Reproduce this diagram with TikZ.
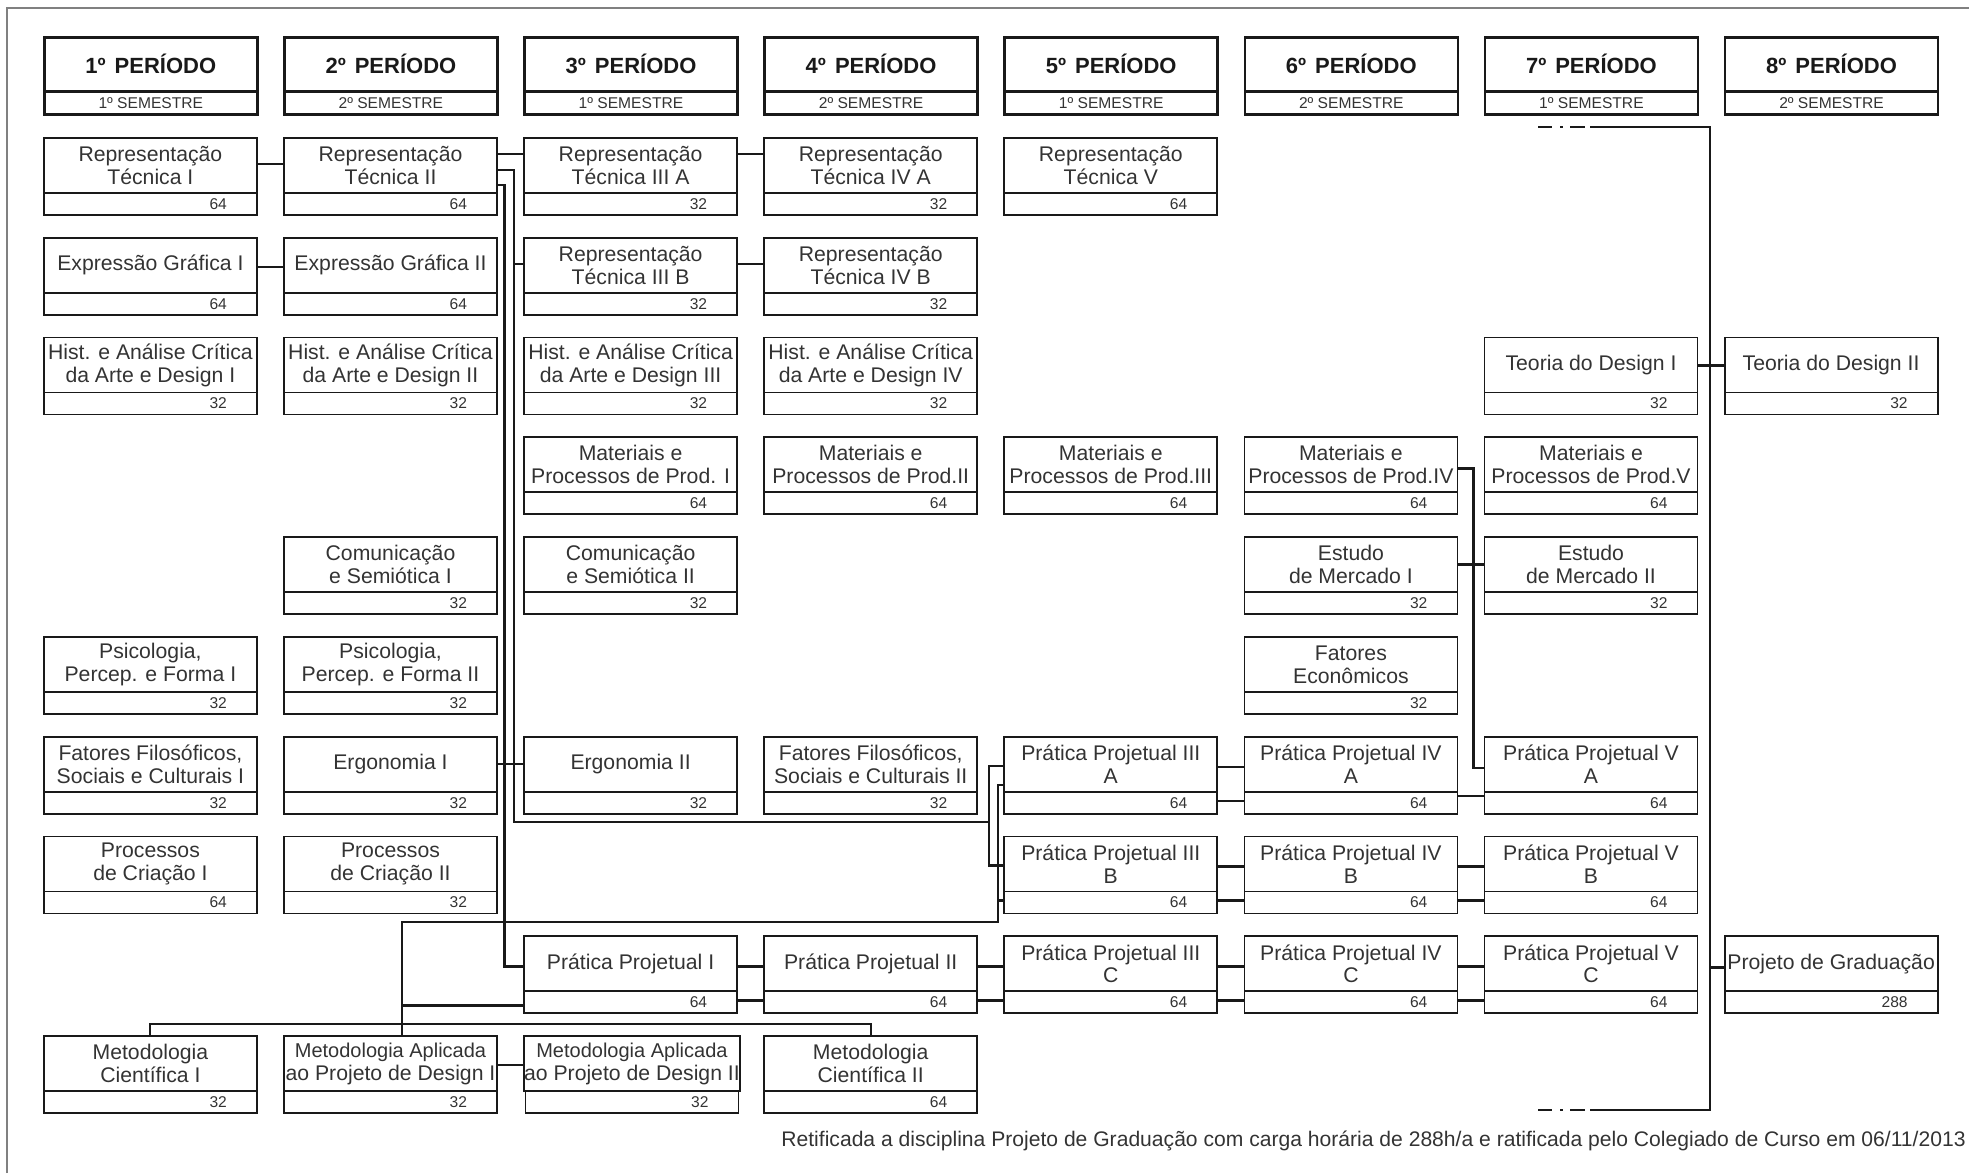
\documentclass[tikz,border=0pt]{standalone}
\usepackage{fontspec}
\setmainfont{Liberation Sans}
\usetikzlibrary{positioning,calc}

\tikzset{
  disc/.style={draw=black!90, line width=0.9pt, text=black!80, minimum width=106.5pt,
    minimum height=27.5pt, inner sep=0pt, align=center, anchor=north west,
    font=\fontsize{10.6}{11.4}\selectfont},
  hrs/.style={draw=black!90, line width=0.9pt, text=black!80, minimum width=106.5pt,
    minimum height=11pt, inner sep=0pt, text width=76.5pt, align=right,
    font=\fontsize{7.8}{8}\selectfont},
  head/.style={draw=black!90, line width=1.3pt, text=black!90, minimum width=106.5pt,
    minimum height=27pt, inner sep=0pt, anchor=north west,
    font=\fontsize{11}{13}\selectfont\bfseries},
  semhead/.style={draw=black!90, line width=1.3pt, text=black!80, minimum width=106.5pt,
    minimum height=11.5pt, inner sep=0pt, font=\fontsize{7.8}{9}\selectfont},
  link/.style={line width=1.3pt, black!90},
  thinlink/.style={line width=1pt, black!90}
}

\begin{document}
\begin{tikzpicture}[x=0.5pt,y=-0.5pt]
\useasboundingbox (0,0) rectangle (1969,1173);
\draw[gray, line width=1pt] (7,1173) -- (7,8) -- (1969,8);

\foreach \col/\smt in {1/1,2/2,3/1,4/2,5/1,6/2,7/1,8/2}{
  \node[head] (p\col) at ({43+240.1*(\col-1)},36) {\col{}º\hspace{4.5pt}PERÍODO};
  \node[semhead, below=-1.3pt of p\col] (s\col) {\smt{}º SEMESTRE};
}

\foreach \n/\col/\rw/\t/\h in {
  rt1/1/1/{Representação\\Técnica I}/64,
  eg1/1/2/{Expressão Gráfica I}/64,
  ha1/1/3/{Hist. e Análise Crítica\\da Arte e Design I}/32,
  ps1/1/6/{Psicologia,\\Percep. e Forma I}/32,
  ff1/1/7/{Fatores Filosóficos,\\Sociais e Culturais I}/32,
  pc1/1/8/{Processos\\de Criação I}/64,
  mc1/1/10/{Metodologia\\Científica I}/32,
  rt2/2/1/{Representação\\Técnica II}/64,
  eg2/2/2/{Expressão Gráfica II}/64,
  ha2/2/3/{Hist. e Análise Crítica\\da Arte e Design II}/32,
  cs1/2/5/{Comunicação\\e Semiótica I}/32,
  ps2/2/6/{Psicologia,\\Percep. e Forma II}/32,
  er1/2/7/{Ergonomia I}/32,
  pc2/2/8/{Processos\\de Criação II}/32,
  ma1/2/10/{\fontsize{10}{11}\selectfont Metodologia Aplicada\\ao Projeto de Design I}/32,
  rt3a/3/1/{Representação\\Técnica III A}/32,
  rt3b/3/2/{Representação\\Técnica III B}/32,
  ha3/3/3/{Hist. e Análise Crítica\\da Arte e Design III}/32,
  mp1/3/4/{Materiais e\\Processos de Prod. I}/64,
  cs2/3/5/{Comunicação\\e Semiótica II}/32,
  er2/3/7/{Ergonomia II}/32,
  pp1/3/9/{Prática Projetual I}/64,
  ma2/3/10/{\fontsize{10}{11}\selectfont Metodologia Aplicada\\ao Projeto de Design II}/32,
  rt4a/4/1/{Representação\\Técnica IV A}/32,
  rt4b/4/2/{Representação\\Técnica IV B}/32,
  ha4/4/3/{Hist. e Análise Crítica\\da Arte e Design IV}/32,
  mp2/4/4/{Materiais e\\Processos de Prod.II}/64,
  ff2/4/7/{Fatores Filosóficos,\\Sociais e Culturais II}/32,
  pp2/4/9/{Prática Projetual II}/64,
  mc2/4/10/{Metodologia\\Científica II}/64,
  rt5/5/1/{Representação\\Técnica V}/64,
  mp3/5/4/{Materiais e\\Processos de Prod.III}/64,
  pp3a/5/7/{Prática Projetual III\\A}/64,
  pp3b/5/8/{Prática Projetual III\\B}/64,
  pp3c/5/9/{Prática Projetual III\\C}/64,
  mp4/6/4/{Materiais e\\Processos de Prod.IV}/64,
  em1/6/5/{Estudo\\de Mercado I}/32,
  fe/6/6/{Fatores\\Econômicos}/32,
  pp4a/6/7/{Prática Projetual IV\\A}/64,
  pp4b/6/8/{Prática Projetual IV\\B}/64,
  pp4c/6/9/{Prática Projetual IV\\C}/64,
  td1/7/3/{Teoria do Design I}/32,
  mp5/7/4/{Materiais e\\Processos de Prod.V}/64,
  em2/7/5/{Estudo\\de Mercado II}/32,
  pp5a/7/7/{Prática Projetual V\\A}/64,
  pp5b/7/8/{Prática Projetual V\\B}/64,
  pp5c/7/9/{Prática Projetual V\\C}/64,
  td2/8/3/{Teoria do Design II}/32,
  pg/8/9/{Projeto de Graduação}/288}{
  \node[disc] (\n) at ({43+240.1*(\col-1)},{137+99.8*(\rw-1)}) {\t};
  \node[hrs, below=-0.9pt of \n] (\n-h) {\h};
}

\draw[link] ($(rt1.north east)+(0,27)$) -- ($(rt2.north west)+(0,27)$);
\draw[link] ($(eg1.north east)+(0,30)$) -- ($(eg2.north west)+(0,30)$);
\draw[link] ($(rt2.north east)+(0,17)$) -- ($(rt3a.north west)+(0,17)$);
\draw[link] ($(rt3a.north east)+(0,17)$) -- ($(rt4a.north west)+(0,17)$);
\draw[link] ($(rt3b.north east)+(0,27)$) -- ($(rt4b.north west)+(0,27)$);
\draw[link] ($(rt3b.north west)+(-9,27)$) -- ($(rt3b.north west)+(0,27)$);

\coordinate (jA) at (514,822);
\coordinate (kA) at (989,822);
\coordinate (jB) at (998,922);
\coordinate (jC) at (402,922);
\draw[link] ($(rt2.north east)+(0,33)$) -| (jA) -- (kA);
\draw[link] ($(pp3b.north west)+(0,30)$) -| (kA) |- ($(pp3a.north west)+(0,30)$);
\draw[link] ($(rt2.north east)+(0,48)$) -| ($(pp1.north west)+(-19,31)$) -- ($(pp1.north west)+(0,31)$);
\draw[link] ($(er1.north east)+(0,28)$) -- ($(er2.north west)+(0,28)$);

\draw[link] ($(pp3a.north west)+(0,49)$) -| (jB) -- (jC) -- (jC |- ma1.north);
\draw[link] ($(pp3b.north west)+(0,65)$) -| (jB);
\draw[link] ($(pp1.north west)+(0,70)$) -| (jC);

\draw[thinlink] (mc1.north) |- ($(mc2.north)+(0,-11)$) -- (mc2.north);
\draw[thinlink] ($(ma1.north east)+(0,30)$) -- ($(ma2.north west)+(0,30)$);

\foreach \a/\b in {pp1/pp2,pp2/pp3c,pp3a/pp4a,pp3b/pp4b,pp3c/pp4c,pp4b/pp5b,pp4c/pp5c}{
  \draw[link] ($(\a.north east)+(0,31)$) -- ($(\b.north west)+(0,31)$);
  \draw[link] ($(\a.north east)+(0,65)$) -- ($(\b.north west)+(0,65)$);
}
\draw[link] ($(pp4a.north east)+(0,60)$) -- ($(pp5a.north west)+(0,60)$);
\draw[link] ($(mp4.north east)+(0,32)$) -- ++(15,0) |- ($(pp5a.north west)+(0,32)$);
\draw[link] ($(em1.north east)+(0,28)$) -- ($(em2.north west)+(0,28)$);

\coordinate (rA) at (1710,127);
\coordinate (rB) at (1710,1110);
\draw[link] ($(rA)+(-120,0)$) -- (rA) -- (rB) -- ++(-120,0);
\draw[link, dash pattern=on 7pt off 4pt on 1.5pt off 3.5pt on 7.5pt off 20pt] ($(rA)+(-172,0)$) -- ++(52,0);
\draw[link, dash pattern=on 7pt off 4pt on 1.5pt off 3.5pt on 7.5pt off 20pt] ($(rB)+(-172,0)$) -- ++(52,0);
\draw[link] ($(td1.north east)+(0,29)$) -- ($(td2.north west)+(0,29)$);
\draw[link] ($(pg.north west)+(0,32)$) -- ++(-14,0);

\node[anchor=west, inner sep=0pt, text=black!80, font=\fontsize{10.55}{12}\selectfont] (nota) at (781,1141)
  {Retificada a disciplina Projeto de Graduação com carga horária de 288h/a e ratificada pelo Colegiado de Curso em 06/11/2013};
\end{tikzpicture}
\end{document}
